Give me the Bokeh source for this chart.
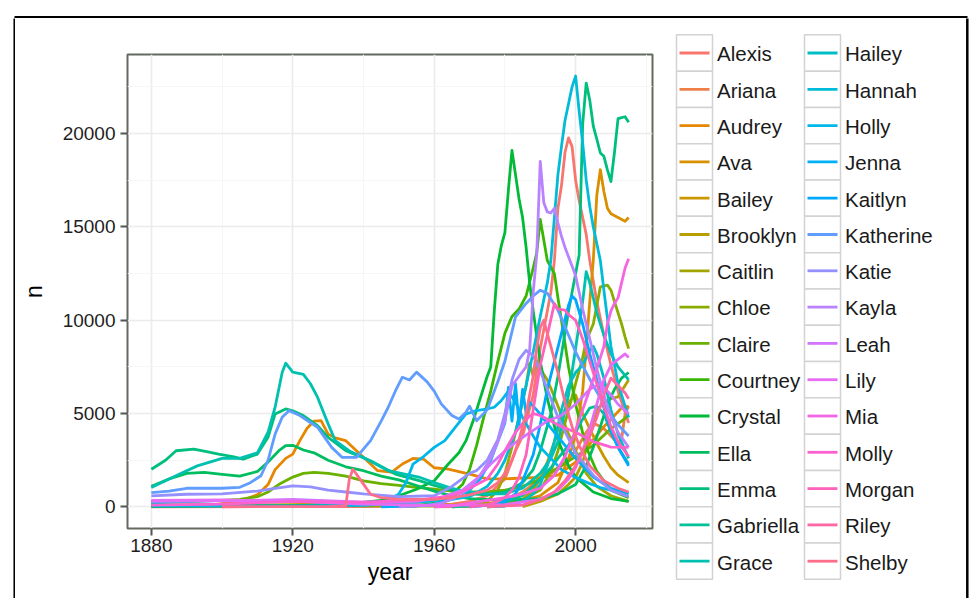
import math
from bokeh.plotting import figure
from bokeh.models import Range1d, FixedTicker
from bokeh.layouts import row, column
from bokeh.embed import file_html
from bokeh.resources import INLINE
from bokeh.core.properties import value

# ---------------- data ----------------
NAMES = ["Alexis", "Ariana", "Audrey", "Ava", "Bailey", "Brooklyn", "Caitlin", "Chloe",
         "Claire", "Courtney", "Crystal", "Ella", "Emma", "Gabriella", "Grace",
         "Hailey", "Hannah", "Holly", "Jenna", "Kaitlyn", "Katherine", "Katie",
         "Kayla", "Leah", "Lily", "Mia", "Molly", "Morgan", "Riley", "Shelby"]

X_TICKS = [1880, 1920, 1960, 2000]
Y_TICKS = [0, 5000, 10000, 15000, 20000]

alexis_year = [1880, 1940, 1955, 1965, 1970, 1975, 1980, 1983, 1985, 1988, 1990, 1992, 1993, 1994, 1995, 1996, 1997, 1998, 1999, 2000, 2001, 2003, 2004, 2006, 2008, 2010, 2012, 2015]
alexis_n = [10, 20, 60, 150, 300, 600, 1500, 3000, 3800, 6000, 8500, 10500, 11500, 13200, 16000, 17200, 19000, 19770, 19300, 17500, 16400, 14600, 13200, 11000, 9200, 7600, 6200, 4500]

ariana_year = [1960, 1970, 1975, 1980, 1985, 1990, 1995, 2000, 2003, 2005, 2008, 2010, 2012, 2013, 2014, 2015]
ariana_n = [5, 30, 100, 300, 800, 1500, 2000, 3000, 4000, 4500, 4200, 3800, 3400, 3600, 5000, 5400]

audrey_year = [1880, 1895, 1905, 1910, 1913, 1915, 1918, 1920, 1922, 1924, 1926, 1928, 1930, 1932, 1935, 1939, 1942, 1944, 1948, 1951, 1954, 1957, 1960, 1964, 1970, 1975, 1980, 1985, 1990, 1995, 2000, 2005, 2008, 2010, 2013, 2015]
audrey_n = [15, 60, 300, 650, 1200, 2000, 2600, 2830, 3550, 4200, 4600, 4620, 3900, 3700, 3550, 2830, 2300, 1940, 1860, 2300, 2600, 2560, 2100, 2030, 1760, 1500, 1500, 1550, 1580, 1700, 2400, 3600, 4300, 4700, 5300, 5400]

ava_year = [1880, 1900, 1920, 1940, 1960, 1975, 1985, 1990, 1995, 1998, 2000, 2002, 2003, 2004, 2005, 2006, 2007, 2008, 2009, 2010, 2012, 2014, 2015]
ava_n = [300, 350, 250, 150, 100, 200, 350, 600, 1300, 2600, 3800, 6200, 8500, 11000, 13200, 16700, 18060, 16900, 16000, 15700, 15500, 15300, 15500]

bailey_year = [1975, 1980, 1985, 1988, 1990, 1992, 1994, 1996, 1998, 2000, 2002, 2004, 2006, 2008, 2010, 2012, 2015]
bailey_n = [10, 60, 400, 900, 1500, 2400, 3500, 4800, 5600, 6000, 5000, 4200, 3400, 2700, 2100, 1700, 1300]

brooklyn_year = [1985, 1990, 1995, 1998, 2000, 2002, 2004, 2006, 2008, 2010, 2012, 2014, 2015]
brooklyn_n = [20, 300, 700, 1200, 1600, 2400, 3800, 5200, 5600, 5800, 5900, 6500, 6800]

caitlin_year = [1965, 1970, 1975, 1978, 1980, 1982, 1984, 1986, 1987, 1988, 1989, 1990, 1992, 1994, 1996, 1998, 2000, 2003, 2006, 2010, 2015]
caitlin_n = [10, 60, 300, 900, 1800, 3200, 4800, 6500, 7700, 7000, 7800, 7400, 6800, 5900, 4900, 3900, 3000, 1800, 1100, 600, 300]

chloe_year = [1880, 1900, 1920, 1940, 1960, 1975, 1985, 1990, 1993, 1995, 1997, 2000, 2002, 2003, 2005, 2007, 2009, 2010, 2011, 2012, 2013, 2014, 2015]
chloe_n = [100, 130, 100, 60, 50, 100, 400, 900, 1900, 3000, 4500, 6600, 8000, 8900, 9800, 11790, 11880, 11610, 11000, 10400, 9800, 9100, 8480]

claire_year = [1880, 1890, 1900, 1905, 1910, 1913, 1916, 1920, 1923, 1926, 1930, 1935, 1940, 1945, 1950, 1955, 1960, 1965, 1970, 1975, 1980, 1985, 1990, 1995, 2000, 2005, 2010, 2013, 2015]
claire_n = [250, 300, 350, 400, 550, 800, 1200, 1600, 1800, 1850, 1800, 1650, 1400, 1250, 1150, 1050, 950, 850, 800, 800, 900, 1100, 1500, 2100, 2700, 3300, 4200, 4600, 4900]

courtney_year = [1950, 1955, 1960, 1965, 1968, 1970, 1972, 1974, 1976, 1978, 1980, 1982, 1984, 1986, 1988, 1989, 1990, 1991, 1992, 1994, 1995, 1996, 1998, 2000, 2003, 2006, 2010, 2015]
courtney_n = [20, 60, 200, 700, 1200, 2000, 3300, 4800, 6200, 7800, 9300, 10200, 10600, 11300, 12800, 13600, 15400, 14300, 13200, 12500, 11200, 10000, 7500, 5500, 3200, 1900, 900, 500]

crystal_year = [1880, 1900, 1920, 1935, 1945, 1950, 1955, 1960, 1964, 1967, 1969, 1971, 1973, 1975, 1976, 1977, 1978, 1979, 1980, 1981, 1982, 1983, 1984, 1985, 1986, 1987, 1988, 1990, 1992, 1995, 1998, 2000, 2005, 2010, 2015]
crystal_n = [20, 40, 60, 150, 350, 600, 950, 1400, 2300, 2900, 3550, 4600, 5800, 7000, 7500, 10500, 13000, 14000, 14700, 17000, 19100, 17800, 16500, 15500, 13900, 12000, 10500, 7800, 5800, 3600, 2200, 1600, 800, 450, 300]

ella_year = [1880, 1885, 1890, 1895, 1900, 1905, 1910, 1913, 1916, 1918, 1920, 1923, 1926, 1930, 1935, 1940, 1945, 1950, 1955, 1960, 1965, 1970, 1980, 1990, 1995, 2000, 2003, 2005, 2007, 2009, 2011, 2013, 2015]
ella_n = [1100, 1500, 1800, 1850, 1750, 1650, 1900, 2400, 3000, 3280, 3300, 3050, 2900, 2500, 2150, 1940, 1650, 1450, 1150, 850, 600, 450, 350, 450, 700, 1200, 2200, 3200, 4300, 5500, 6300, 6900, 7200]

emma_year = [1880, 1884, 1887, 1892, 1896, 1899, 1903, 1906, 1910, 1913, 1915, 1918, 1920, 1923, 1927, 1930, 1935, 1942, 1949, 1956, 1960, 1965, 1970, 1975, 1980, 1985, 1988, 1990, 1993, 1995, 1998, 2000, 2001, 2002, 2003, 2004, 2005, 2006, 2007, 2008, 2009, 2010, 2011, 2012, 2013, 2014, 2015]
emma_n = [2020, 2500, 3010, 3100, 2950, 2830, 2700, 2560, 2830, 3730, 4980, 5250, 5150, 4890, 4350, 3730, 3010, 2470, 1760, 1400, 1150, 900, 700, 650, 800, 1300, 2000, 3000, 5000, 7000, 10500, 12500, 13500, 20500, 22700, 21800, 20400, 19700, 18960, 18780, 18060, 17430, 19000, 20800, 20850, 20900, 20600]

gabriella_year = [1965, 1975, 1980, 1985, 1988, 1990, 1993, 1995, 1998, 2000, 2002, 2004, 2006, 2008, 2010, 2012, 2015]
gabriella_n = [10, 100, 250, 600, 1100, 1500, 2100, 2600, 3300, 4000, 4700, 5300, 5400, 5000, 4000, 3200, 2300]

grace_year = [1880, 1884, 1888, 1893, 1900, 1905, 1910, 1913, 1915, 1917, 1918, 1920, 1923, 1925, 1927, 1930, 1932, 1936, 1940, 1947, 1956, 1960, 1965, 1970, 1975, 1980, 1985, 1990, 1993, 1995, 1998, 2000, 2002, 2003, 2004, 2006, 2008, 2010, 2012, 2015]
grace_n = [1040, 1400, 1760, 2200, 2600, 2600, 2900, 4000, 5340, 7200, 7700, 7220, 7100, 6600, 5880, 4450, 3550, 3000, 2650, 1940, 1580, 1300, 1000, 800, 700, 700, 1000, 1800, 2600, 3500, 6000, 8500, 11000, 12600, 12000, 10400, 9200, 8200, 7500, 6800]

hailey_year = [1975, 1980, 1985, 1988, 1990, 1992, 1994, 1996, 1998, 2000, 2002, 2004, 2005, 2006, 2008, 2010, 2012, 2015]
hailey_n = [10, 50, 300, 700, 1200, 2200, 3500, 5200, 6500, 7200, 7600, 8400, 8600, 8200, 6900, 5200, 3900, 2600]

hannah_year = [1880, 1900, 1920, 1940, 1955, 1965, 1970, 1975, 1978, 1980, 1983, 1986, 1988, 1990, 1992, 1993, 1994, 1995, 1996, 1997, 1998, 1999, 2000, 2001, 2002, 2003, 2004, 2005, 2006, 2007, 2008, 2010, 2012, 2015]
hannah_n = [220, 350, 300, 200, 250, 400, 550, 1100, 1800, 2500, 4000, 6500, 8300, 10200, 12000, 13200, 15500, 17800, 19300, 20700, 21600, 22500, 23080, 21200, 19500, 17500, 16100, 15000, 14100, 13200, 11600, 8600, 6600, 4800]

holly_year = [1880, 1920, 1940, 1945, 1950, 1952, 1954, 1957, 1960, 1963, 1966, 1969, 1972, 1975, 1977, 1979, 1981, 1983, 1985, 1988, 1990, 1993, 1996, 2000, 2004, 2007, 2010, 2015]
holly_n = [40, 60, 80, 150, 700, 1300, 2290, 2700, 3190, 3550, 4270, 4980, 5160, 5250, 5340, 5700, 6200, 5600, 4800, 3800, 3200, 2600, 2000, 1580, 1250, 1040, 900, 770]

jenna_year = [1945, 1955, 1960, 1965, 1970, 1973, 1976, 1978, 1980, 1981, 1982, 1983, 1984, 1985, 1986, 1987, 1989, 1991, 1994, 1997, 2000, 2005, 2010, 2015]
jenna_n = [10, 60, 150, 400, 900, 1500, 2500, 3500, 4500, 6400, 4600, 6600, 4400, 6300, 5000, 5600, 5200, 4700, 4000, 3300, 2600, 1600, 1000, 700]

kaitlyn_year = [1970, 1975, 1980, 1983, 1985, 1988, 1990, 1992, 1994, 1996, 1998, 1999, 2000, 2002, 2004, 2006, 2008, 2010, 2012, 2015]
kaitlyn_n = [10, 80, 300, 700, 1400, 2800, 4400, 6300, 7800, 9300, 10800, 11300, 11100, 9800, 8200, 6800, 5300, 4100, 3200, 2200]

katherine_year = [1880, 1885, 1890, 1900, 1905, 1908, 1911, 1913, 1915, 1917, 1919, 1922, 1927, 1931, 1934, 1938, 1942, 1945, 1947, 1949, 1951, 1953, 1955, 1958, 1960, 1962, 1965, 1967, 1969, 1970, 1972, 1975, 1978, 1980, 1983, 1986, 1988, 1990, 1992, 1995, 1998, 2000, 2003, 2005, 2008, 2010, 2012, 2015]
katherine_n = [770, 850, 1000, 1000, 1050, 1300, 1670, 2500, 3900, 4800, 5160, 4900, 4270, 3190, 2650, 2650, 3550, 4600, 5340, 6200, 6950, 6800, 7220, 6700, 6200, 5520, 4900, 4710, 5070, 5400, 4620, 5200, 6700, 7800, 10180, 10900, 11300, 11610, 11440, 10540, 9200, 8300, 7200, 6500, 5500, 4900, 4400, 3800]

katie_year = [1880, 1890, 1900, 1910, 1915, 1920, 1925, 1930, 1935, 1940, 1950, 1960, 1965, 1970, 1972, 1975, 1978, 1980, 1982, 1984, 1986, 1988, 1990, 1992, 1995, 2000, 2005, 2010, 2015]
katie_n = [590, 680, 700, 850, 1000, 1130, 1080, 900, 800, 700, 550, 600, 1100, 1800, 1950, 2500, 3600, 5000, 6800, 7900, 8390, 8100, 7300, 6300, 4800, 2900, 1700, 900, 550]

kayla_year = [1950, 1958, 1962, 1966, 1970, 1973, 1976, 1978, 1980, 1982, 1984, 1986, 1987, 1988, 1989, 1990, 1991, 1992, 1993, 1994, 1995, 1996, 1997, 1998, 2000, 2002, 2004, 2006, 2008, 2010, 2012, 2015]
kayla_n = [10, 80, 200, 500, 1000, 1700, 2600, 3500, 4600, 6500, 7000, 7500, 8400, 11500, 13500, 18510, 16300, 15800, 15750, 16000, 15200, 14500, 13900, 13400, 12400, 10600, 9000, 7400, 6000, 4800, 4000, 3200]

leah_year = [1880, 1900, 1920, 1940, 1955, 1962, 1968, 1972, 1976, 1980, 1984, 1988, 1992, 1996, 2000, 2004, 2007, 2010, 2012, 2015]
leah_n = [300, 320, 400, 250, 300, 500, 900, 1500, 2300, 3000, 3600, 4100, 4600, 4900, 5500, 6300, 6600, 6000, 5500, 5000]

lily_year = [1880, 1900, 1920, 1940, 1960, 1980, 1990, 1995, 1998, 2000, 2002, 2004, 2006, 2008, 2010, 2012, 2014, 2015]
lily_n = [350, 380, 300, 150, 80, 120, 400, 900, 1500, 2100, 3000, 4200, 5500, 6800, 7600, 7900, 8200, 8000]

mia_year = [1960, 1965, 1970, 1975, 1980, 1985, 1990, 1994, 1997, 2000, 2002, 2004, 2006, 2008, 2009, 2010, 2011, 2012, 2013, 2014, 2015]
mia_n = [10, 50, 200, 350, 500, 700, 1000, 1700, 2700, 4100, 5200, 6300, 7400, 8600, 9800, 10500, 10900, 11200, 12000, 12800, 13300]

molly_year = [1880, 1900, 1920, 1940, 1955, 1965, 1970, 1975, 1978, 1980, 1983, 1986, 1988, 1990, 1993, 1996, 2000, 2005, 2010, 2015]
molly_n = [100, 150, 300, 250, 350, 600, 1000, 1500, 2300, 3000, 4000, 4700, 5000, 4900, 4600, 4300, 4000, 3500, 3200, 3190]

morgan_year = [1970, 1975, 1978, 1980, 1982, 1984, 1986, 1988, 1990, 1992, 1994, 1995, 1997, 1998, 2000, 2002, 2004, 2006, 2008, 2010, 2012, 2015]
morgan_n = [10, 100, 300, 500, 900, 1600, 2800, 5200, 7600, 9200, 10900, 10600, 10540, 10300, 10000, 9000, 7800, 6600, 5400, 4300, 3500, 2700]

riley_year = [1975, 1985, 1990, 1994, 1997, 2000, 2002, 2004, 2006, 2008, 2010, 2012, 2014, 2015]
riley_n = [10, 100, 400, 800, 1400, 2200, 3000, 3800, 4800, 6000, 6900, 6500, 6100, 5800]

shelby_year = [1900, 1930, 1935, 1936, 1937, 1938, 1940, 1942, 1945, 1950, 1960, 1965, 1970, 1975, 1978, 1980, 1982, 1984, 1986, 1988, 1989, 1990, 1991, 1992, 1993, 1995, 1997, 1999, 2001, 2004, 2008, 2012, 2015]
shelby_n = [10, 20, 60, 1500, 2020, 1760, 1220, 680, 500, 400, 400, 500, 650, 900, 1300, 1800, 2500, 3600, 5000, 7000, 8500, 9600, 10000, 9300, 8600, 7200, 5600, 4300, 3300, 2200, 1400, 1000, 800]

SERIES = [
    (alexis_year, alexis_n), (ariana_year, ariana_n), (audrey_year, audrey_n),
    (ava_year, ava_n), (bailey_year, bailey_n), (brooklyn_year, brooklyn_n),
    (caitlin_year, caitlin_n), (chloe_year, chloe_n), (claire_year, claire_n),
    (courtney_year, courtney_n), (crystal_year, crystal_n), (ella_year, ella_n),
    (emma_year, emma_n), (gabriella_year, gabriella_n), (grace_year, grace_n),
    (hailey_year, hailey_n), (hannah_year, hannah_n), (holly_year, holly_n),
    (jenna_year, jenna_n), (kaitlyn_year, kaitlyn_n), (katherine_year, katherine_n),
    (katie_year, katie_n), (kayla_year, kayla_n), (leah_year, leah_n),
    (lily_year, lily_n), (mia_year, mia_n), (molly_year, molly_n),
    (morgan_year, morgan_n), (riley_year, riley_n), (shelby_year, shelby_n),
]


# ---------------- ggplot2 default hue palette ----------------
def hcl_hex(h, c=100.0, l=65.0):
    xn, yn, zn = 95.047, 100.0, 108.883
    un = 4 * xn / (xn + 15 * yn + 3 * zn)
    vn = 9 * yn / (xn + 15 * yn + 3 * zn)
    hr = math.radians(h)
    U, V = c * math.cos(hr), c * math.sin(hr)
    Y = yn * ((l + 16) / 116) ** 3
    u = U / (13 * l) + un
    v = V / (13 * l) + vn
    X = 9.0 * Y * u / (4 * v)
    Z = -X / 3 - 5 * Y + 3 * Y / v
    X, Y, Z = X / 100, Y / 100, Z / 100
    rgb = [3.240479 * X - 1.537150 * Y - 0.498535 * Z,
           -0.969256 * X + 1.875992 * Y + 0.041556 * Z,
           0.055648 * X - 0.204043 * Y + 1.057311 * Z]
    out = []
    for t in rgb:
        t = 12.92 * t if t <= 0.0031308 else 1.055 * t ** (1 / 2.4) - 0.055
        out.append(int(round(min(max(t, 0), 1) * 255)))
    return "#%02X%02X%02X" % tuple(out)


n_lv = len(NAMES)
COLORS = [hcl_hex(15 + i * 360.0 / n_lv) for i in range(n_lv)]

FONT = "Liberation Sans"
TOTAL_W = 971
TOP_H = 18
LEFT_W = 15
H = 598 - TOP_H
W_MAIN = 650
W_LEG = TOTAL_W - LEFT_W - W_MAIN
FRAME_W = 2.5


def blank(width, height, xr, yr):
    f = figure(width=width, height=height, x_range=xr, y_range=yr,
               output_backend="svg", toolbar_location=None,
               x_axis_type=None, y_axis_type=None,
               min_border=0, min_border_left=0, min_border_right=0,
               min_border_top=0, min_border_bottom=0)
    f.grid.visible = False
    f.outline_line_color = None
    f.background_fill_color = "white"
    f.border_fill_color = "white"
    f.frame_align = False
    return f


# ---------------- outer frame strips ----------------
top = blank(TOTAL_W, TOP_H, Range1d(0, TOTAL_W), Range1d(TOP_H, 0))
top.segment(x0=[14], y0=[16.8], x1=[TOTAL_W - 4], y1=[16.8], line_color="black",
            line_width=FRAME_W)
left = blank(LEFT_W, H, Range1d(0, LEFT_W), Range1d(H, 0))
left.segment(x0=[14.2], y0=[-5], x1=[14.2], y1=[H + 5], line_color="black",
             line_width=FRAME_W)

# ---------------- main panel ----------------
p = figure(width=W_MAIN, height=H,
           x_range=Range1d(1873.25, 2021.75), y_range=Range1d(-1155, 24235),
           output_backend="svg", toolbar_location=None,
           min_border_left=112, min_border_right=W_MAIN - 112 - 525,
           min_border_top=36, min_border_bottom=70)
p.frame_align = False
p.background_fill_color = "white"
p.border_fill_color = "white"
p.outline_line_color = "#646B5E"
p.outline_line_width = 2

for (yrs, ns), col in zip(SERIES, COLORS):
    p.line(yrs, ns, line_color=col, line_width=2.8, line_join="round")

p.xaxis.ticker = FixedTicker(ticks=X_TICKS, minor_ticks=[1900, 1940, 1980, 2020])
p.yaxis.ticker = FixedTicker(ticks=Y_TICKS, minor_ticks=[2500, 7500, 12500, 17500, 22500])
for ax in (p.xaxis[0], p.yaxis[0]):
    ax.axis_line_color = None
    ax.major_tick_out = 7
    ax.major_tick_in = 0
    ax.major_tick_line_color = "#555555"
    ax.major_tick_line_width = 2
    ax.minor_tick_line_color = None
    ax.major_label_text_font = FONT
    ax.major_label_text_font_size = "19px"
    ax.major_label_text_color = "#1E1E1E"
    ax.axis_label_text_font = FONT
    ax.axis_label_text_font_size = "23px"
    ax.axis_label_text_font_style = "normal"
    ax.axis_label_text_color = "#000000"
p.xaxis.axis_label = "year"
p.yaxis.axis_label = "n"
p.xaxis.major_label_standoff = 3
p.xaxis.axis_label_standoff = 4
p.yaxis.major_label_standoff = 5
p.yaxis.axis_label_standoff = 13

for g in (p.xgrid[0], p.ygrid[0]):
    g.grid_line_color = "#EBEBEB"
    g.grid_line_width = 1.6
    g.minor_grid_line_color = "#F6F6F6"
    g.minor_grid_line_width = 1

# ---------------- legend panel ----------------
q = blank(W_LEG, H, Range1d(0, W_LEG), Range1d(H, 0))

n_rows = 15
key_w, key_h = 36.0, 36.3
col_left = [11.0, 139.0]
row0 = 52.5 - TOP_H
kx, ky, tx = [], [], []
for i in range(n_lv):
    c, r = divmod(i, n_rows)
    kx.append(col_left[c] + key_w / 2)
    ky.append(row0 + r * key_h)
    tx.append(col_left[c] + key_w + 4.5)

q.rect(x=kx, y=ky, width=key_w, height=key_h, fill_color="white",
       line_color="#D2D2D2", line_width=1.5)
q.segment(x0=[x - 15 for x in kx], y0=ky, x1=[x + 15 for x in kx], y1=ky,
          line_color=COLORS, line_width=2.8)
q.text(x=tx, y=[y + 0.8 for y in ky], text=NAMES, text_font=value(FONT),
       text_font_size="20.5px", text_baseline="middle", text_align="left",
       text_color="#1A1A1A")

# right part of the outer frame
q.segment(x0=[W_LEG - 4.2], y0=[-5], x1=[W_LEG - 4.2], y1=[H + 5],
          line_color="black", line_width=FRAME_W)

layout = column(top, row(left, p, q, spacing=0), spacing=0)
open("out.html", "w").write(file_html(layout, INLINE))
